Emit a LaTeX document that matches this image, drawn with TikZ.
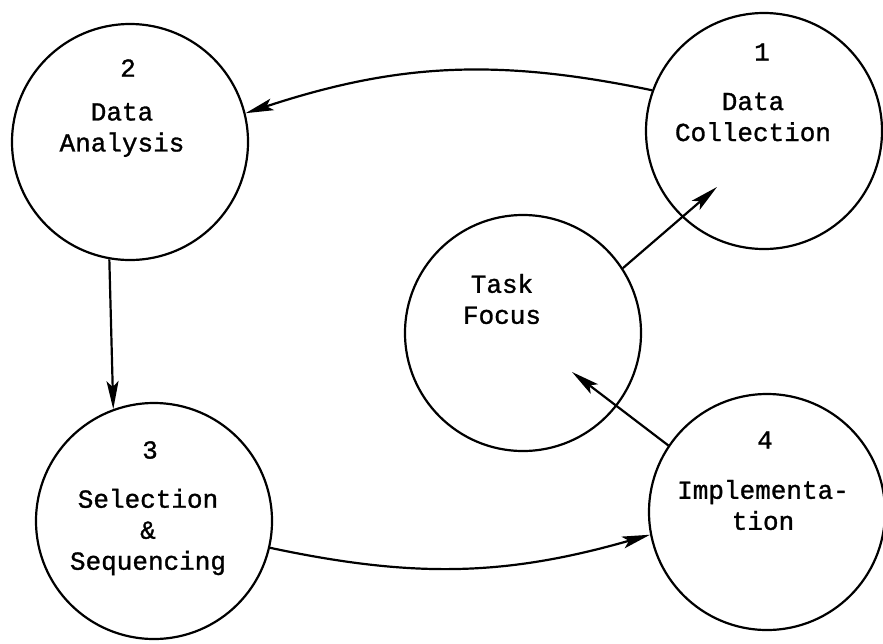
\documentclass[tikz,border=0pt]{standalone}
\usepackage{fontspec}
\setmonofont[FakeBold=1.2]{Liberation Mono}
\usepackage{tikz}
\usetikzlibrary{calc,arrows.meta}

\begin{document}
\begin{tikzpicture}[x=0.5pt,y=-0.5pt,>={Stealth[length=14pt,width=6pt,inset=3pt]},
	stage/.style={draw,circle,line width=1.1pt,minimum size=118pt,inner sep=0pt},
	txt/.style={font=\ttfamily\fontsize{13}{15.5}\selectfont,align=center,inner sep=0pt},
	link/.style={->,line width=1.1pt}]
	\useasboundingbox (0,0) rectangle (883,643);
	
	% the five circles
	\node[stage] (coll) at (764,131) {};
	\node[stage] (anal) at (130,142) {};
	\node[stage] (sel) at (154,521) {};
	\node[stage] (impl) at (767,512) {};
	\node[stage] (task) at (523,333) {};
	
	% numbers and names
	\node[txt] (coll-n) at ($(coll)+(-2,-79)$) {1};
	\node[txt] (coll-t) at ($(coll)+(-11,-14)$) {Data\\Collection};
	\node[txt] (anal-n) at ($(anal)+(-2,-74)$) {2};
	\node[txt] (anal-t) at ($(anal)+(-8,-12)$) {Data\\Analysis};
	\node[txt] (sel-n) at ($(sel)+(-4,-71)$) {3};
	\node[txt] (sel-t) at ($(sel)+(-6,11)$) {Selection\\\&\\Sequencing};
	\node[txt] (impl-n) at ($(impl)+(-2,-72)$) {4};
	\node[txt] (impl-t) at ($(impl)+(-4,-7)$) {Implementa-\\tion};
	\node[txt] (task-t) at ($(task)+(-21,-34)$) {Task\\Focus};
	
	% cycle
	\draw[link] (coll.160) to[bend right=15] (anal.14);
	\draw[link] (anal.260) -- (sel.110);
	\draw[link] (sel.-13) to[bend right=14] (impl.191);
	
	% to and from the focus
	\coordinate (coll-in) at ($(coll)+(-47,56)$);
	\coordinate (task-in) at ($(task)+(49,39)$);
	\draw[link] (task.33) -- (coll-in);
	\draw[link] (impl.146) -- (task-in);
\end{tikzpicture}
\end{document}
